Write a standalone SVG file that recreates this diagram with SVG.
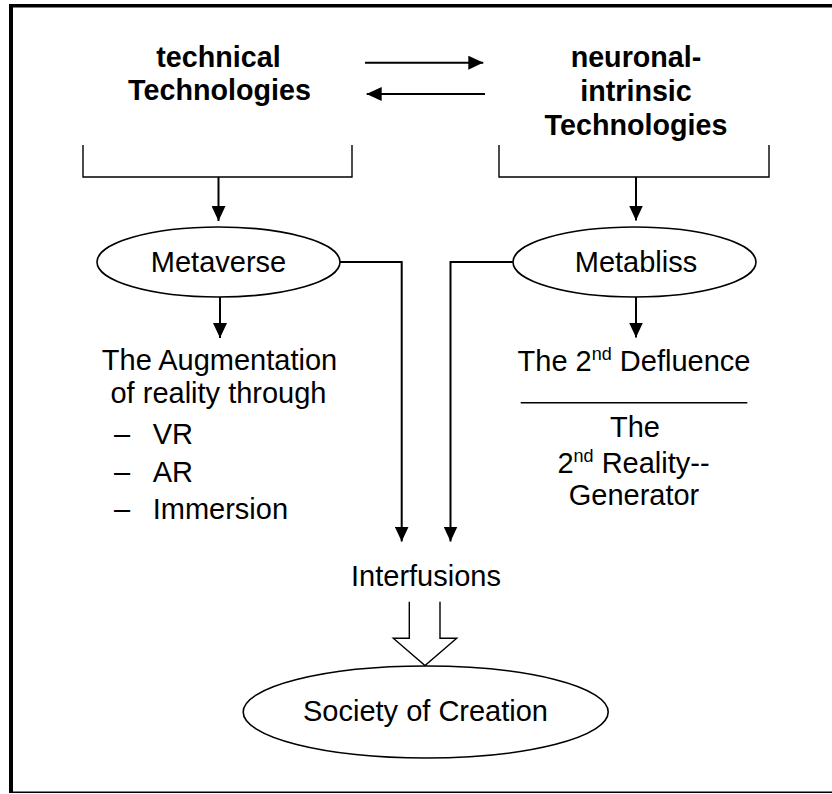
<svg xmlns="http://www.w3.org/2000/svg" width="832" height="794" viewBox="0 0 832 794">
<style>
text{font-family:"Liberation Sans",Arial,sans-serif;font-size:29px;fill:#000}
.b{font-weight:bold;font-size:28.7px}
.c{text-anchor:middle}
.ln{fill:none;stroke:#000;stroke-width:2}
.thin{fill:none;stroke:#000;stroke-width:1.4}
.el{fill:#fff;stroke:#000;stroke-width:1.6}
.sup{font-size:18px}
</style>
<defs>
<marker id="ah" viewBox="0 0 15 14" refX="15" refY="7" markerWidth="15" markerHeight="14" markerUnits="userSpaceOnUse" orient="auto">
<path d="M0,0 L15,7 L0,14 z" fill="#000"/>
</marker>
</defs>
<rect width="832" height="794" fill="#fff"/>
<g id="frame">
<line x1="11" y1="5.8" x2="832" y2="5.8" stroke="#000" stroke-width="3.6"/>
<line x1="11" y1="4" x2="11" y2="793" stroke="#000" stroke-width="4"/>
<line x1="11" y1="792.3" x2="832" y2="792.3" stroke="#000" stroke-width="1.4"/>
</g>
<g id="technical">
<text class="b c" x="218.5" y="67">technical</text>
<text class="b c" x="219.5" y="100">Technologies</text>
<path class="thin" d="M83,145 V177 H352 V145"/>
</g>
<g id="neuronal">
<text class="b c" x="636" y="67">neuronal-</text>
<text class="b c" x="636" y="101">intrinsic</text>
<text class="b c" x="636" y="135">Technologies</text>
<path class="thin" d="M499,145 V177 H769 V145"/>
</g>
<g id="metaverse">
<ellipse class="el" cx="218.5" cy="262" rx="121.5" ry="35"/>
<text class="c" x="218.5" y="272">Metaverse</text>
</g>
<g id="metabliss">
<ellipse class="el" cx="634.5" cy="262" rx="121.5" ry="35"/>
<text class="c" x="636" y="272">Metabliss</text>
</g>
<g id="augmentation">
<text class="c" x="219.5" y="370">The Augmentation</text>
<text class="c" x="218.5" y="403">of reality through</text>
<text x="114" y="444">–</text><text x="152.7" y="444">VR</text>
<text x="114" y="481.7">–</text><text x="152.7" y="481.7">AR</text>
<text x="114" y="519.3">–</text><text x="152.7" y="519.3">Immersion</text>
</g>
<g id="defluence">
<text class="c" x="634" y="370.7">The 2<tspan class="sup" dy="-11">nd</tspan><tspan dy="11"> Defluence</tspan></text>
<line class="thin" x1="520.7" y1="402.7" x2="747.3" y2="402.7"/>
<text class="c" x="635" y="436.7">The</text>
<text class="c" x="633.5" y="472.7">2<tspan class="sup" dy="-11">nd</tspan><tspan dy="11"> Reality--</tspan></text>
<text class="c" x="634" y="505">Generator</text>
</g>
<g id="interfusions">
<text class="c" x="426" y="585.7">Interfusions</text>
</g>
<g id="society">
<ellipse class="el" cx="425.7" cy="712" rx="182.5" ry="46"/>
<text class="c" x="425.5" y="720.7">Society of Creation</text>
</g>
<g id="connectors">
<line class="ln" x1="365" y1="62.7" x2="483.3" y2="62.7" marker-end="url(#ah)"/>
<line class="ln" x1="485" y1="94" x2="366.7" y2="94" marker-end="url(#ah)"/>
<line class="ln" x1="218.5" y1="177" x2="218.5" y2="221" marker-end="url(#ah)"/>
<line class="ln" x1="636" y1="177" x2="636" y2="220.5" marker-end="url(#ah)"/>
<line class="ln" x1="220" y1="297" x2="220" y2="338" marker-end="url(#ah)"/>
<line class="ln" x1="636" y1="297" x2="636" y2="337.5" marker-end="url(#ah)"/>
<path class="ln" d="M340,262 H401.7 V541.5" marker-end="url(#ah)"/>
<path class="ln" d="M512.8,262 H450.5 V541.5" marker-end="url(#ah)"/>
<path class="thin" fill="#fff" d="M409.3,601.7 V638.3 H393.3 L425,665.5 L456.7,638.3 H440 V601.7"/>
</g>
</svg>
